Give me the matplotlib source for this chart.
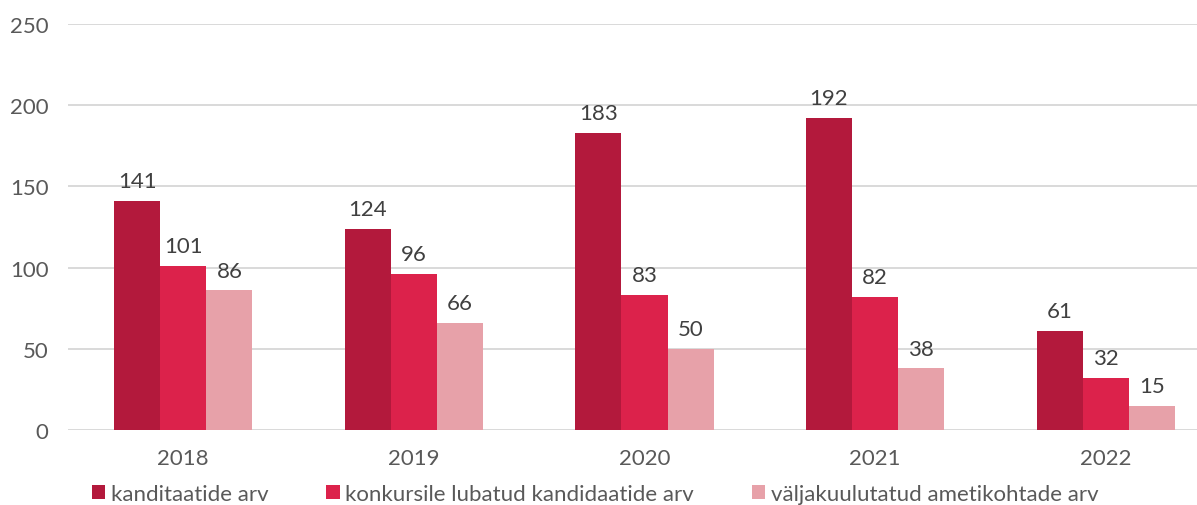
import matplotlib
matplotlib.use("Agg")
import matplotlib.pyplot as plt
import numpy as np
from matplotlib.patches import Patch

years = ["2018", "2019", "2020", "2021", "2022"]
kandidaadid = [141, 124, 183, 192, 61]
lubatud = [101, 96, 83, 82, 32]
ametikohad = [86, 66, 50, 38, 15]
series_names = ["kanditaatide arv", "konkursile lubatud kandidaatide arv",
                "väljakuulutatud ametikohtade arv"]
colors = ["#B3193C", "#DC224B", "#E7A1A9"]

plt.rcParams['font.family'] = ['Lato', 'DejaVu Sans']

W, H = 1197, 506
fig = plt.figure(figsize=(W / 100, H / 100), dpi=100)
ax_left, ax_right = 68, 1221
ax_bottom, ax_top = 431, 25
ax = fig.add_axes([ax_left / W, (H - ax_bottom) / H,
                   (ax_right - ax_left) / W, (ax_bottom - ax_top) / H])

x = np.arange(len(years))
bw = 0.2
for i, (vals, c) in enumerate(zip([kandidaadid, lubatud, ametikohad], colors)):
    bars = ax.bar(x + (i - 1) * bw, vals, width=bw, color=c, zorder=3)
    for b, v in zip(bars, vals):
        ax.annotate(str(v), (b.get_x() + b.get_width() / 2, v),
                    xytext=(0, 7), textcoords="offset points",
                    ha="center", va="bottom", fontsize=16, color="#404040")

ax.set_xlim(-0.5, 4.5)
ax.set_ylim(0, 250)
ax.set_yticks(range(0, 251, 50))
ax.set_xticks(x)
ax.set_xticklabels(years)
ax.yaxis.grid(True, color="#D9D9D9", linewidth=1.4, zorder=0)
ax.set_axisbelow(True)
for s in ax.spines.values():
    s.set_visible(False)
ax.tick_params(axis="both", length=0, labelsize=16, labelcolor="#595959")
ax.tick_params(axis="x", pad=13)
ax.tick_params(axis="y", pad=14)

handles = [Patch(facecolor=c, label=n) for c, n in zip(colors, series_names)]
fig.legend(handles=handles, loc="center left", bbox_to_anchor=(92 / W, (H - 495) / H),
           ncol=3, frameon=False, fontsize=16, labelcolor="#595959",
           handlelength=0.6, handleheight=0.6, handletextpad=0.25,
           columnspacing=2.6, borderpad=0, borderaxespad=0)

fig.savefig("out.png", dpi=100)
